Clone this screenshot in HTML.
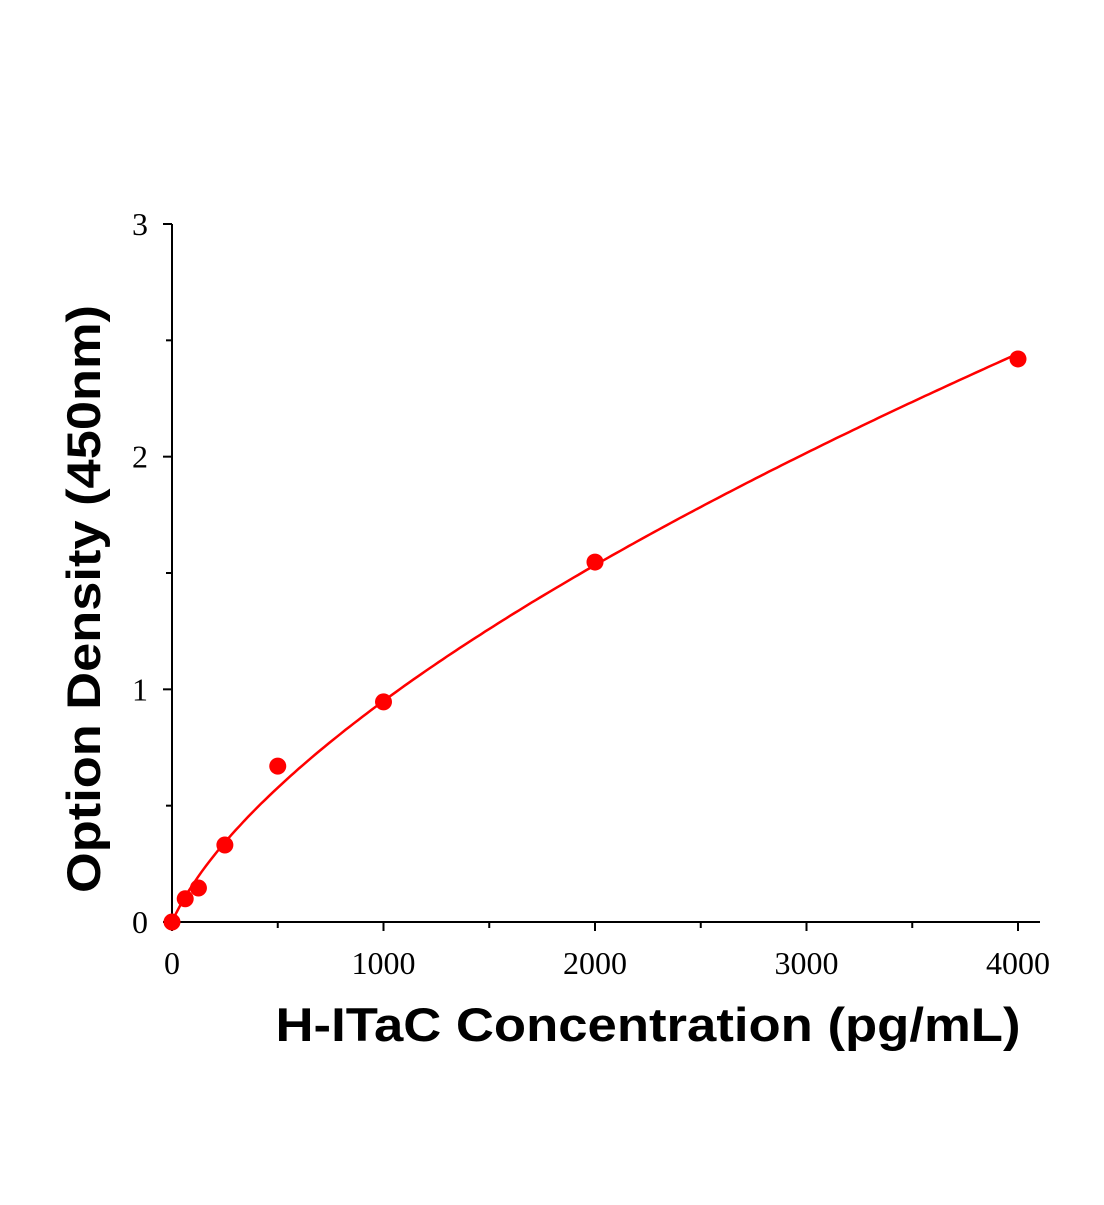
<!DOCTYPE html>
<html><head><meta charset="utf-8"><style>
body{margin:0;background:#fff;width:1104px;height:1200px;overflow:hidden}
svg text{font-family:"Liberation Serif",serif}
</style></head><body>
<svg id="chart" width="1104" height="1200" viewBox="0 0 1104 1200" xmlns="http://www.w3.org/2000/svg">
<g id="axes"></g>
<g id="curve"></g>
<g id="points"></g>
<text transform="translate(100,599) rotate(-90)" text-anchor="middle" textLength="588" lengthAdjust="spacingAndGlyphs" style="font-family:'Liberation Sans',sans-serif;font-weight:bold;font-size:47px">Option Density (450nm)</text>
<text x="648" y="1041" text-anchor="middle" textLength="745" lengthAdjust="spacingAndGlyphs" style="font-family:'Liberation Sans',sans-serif;font-weight:bold;font-size:47px">H-ITaC Concentration (pg/mL)</text>
</svg>
<script>
const concentrations=[0,62.5,125,250,500,1000,2000,4000];
const odValues=[0.0,0.10,0.146,0.331,0.67,0.946,1.547,2.42];
const xTicks=[0,1000,2000,3000,4000];
const xMinor=[500,1500,2500,3500];
const yTicks=[0,1,2,3];
const yMinor=[0.5,1.5,2.5];
const fitParams=[0.01391,0.63,50];
const NS="http://www.w3.org/2000/svg";
const X0=172,X1=1018,Y0=922,Y1=224;
const xs=v=>X0+(v/4000)*(X1-X0);
const ys=v=>Y0-(v/3)*(Y0-Y1);
function mk(tag,attrs,parent){const e=document.createElementNS(NS,tag);for(const k in attrs)e.setAttribute(k,attrs[k]);parent.appendChild(e);return e;}
const ax=document.getElementById('axes');
let l=mk('line',{x1:X0,y1:Y1,x2:X0,y2:Y0+1,stroke:'#000','stroke-width':2},ax);


l=mk('line',{x1:X0-1,y1:Y0,x2:1040,y2:Y0,stroke:'#000','stroke-width':2},ax);


xTicks.forEach(v=>{const t=mk('line',{x1:xs(v),y1:Y0,x2:xs(v),y2:Y0+9,stroke:'#000','stroke-width':2},ax);


const tx=mk('text',{x:xs(v),y:974,'text-anchor':'middle','font-size':32},ax);tx.textContent=v;

});
xMinor.forEach(v=>{const t=mk('line',{x1:xs(v),y1:Y0,x2:xs(v),y2:Y0+6,stroke:'#000','stroke-width':2},ax);

});
yTicks.forEach(v=>{const t=mk('line',{x1:X0-9,y1:ys(v),x2:X0,y2:ys(v),stroke:'#000','stroke-width':2},ax);


const tx=mk('text',{x:140,y:ys(v)+11,'text-anchor':'middle','font-size':32},ax);tx.textContent=v;

});
yMinor.forEach(v=>{const t=mk('line',{x1:X0-6,y1:ys(v),x2:X0,y2:ys(v),stroke:'#000','stroke-width':2},ax);

});
const [fa,fb,fk]=fitParams;
let d='';for(let i=0;i<=200;i++){const c=4000*i/200;const v=fa*(Math.pow(c+fk,fb)-Math.pow(fk,fb));d+=(i?'L':'M')+xs(c).toFixed(1)+','+ys(v).toFixed(1);}
const p=mk('path',{d:d,fill:'none',stroke:'#ff0000','stroke-width':2.5},document.getElementById('curve'));


const pg=document.getElementById('points');
concentrations.forEach((c,i)=>{const ci=mk('circle',{cx:xs(c),cy:ys(odValues[i]),r:8.5,fill:'#ff0000'},pg);

});
</script>
</body></html>
